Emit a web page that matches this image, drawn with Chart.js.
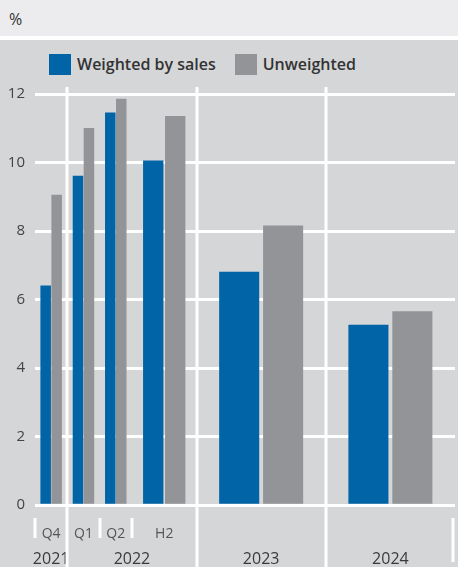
<!DOCTYPE html>
<html>
<head>
<meta charset="utf-8">
<script src="https://cdn.jsdelivr.net/npm/chart.js@4"></script>
<style>
  html, body { margin: 0; padding: 0; }
  body { width: 458px; height: 567px; overflow: hidden; background: #d5d6d8; font-family: "Open Sans", sans-serif; position: relative; }
  #unit { height: 36px; line-height: 38px; background: #ececee; color: #333; font-size: 16px; padding-left: 9px; border-bottom: 4px solid #fff; }
  #legend { display: flex; align-items: center; padding: 13px 0 0 49px; }
  .item { display: flex; align-items: center; font-size: 16px; font-weight: 600; color: #333; margin-right: 19px; }
  .sw { width: 22px; height: 21px; margin-right: 6px; }
  #wrap { position: absolute; left: 0; top: 80px; width: 458px; height: 487px; }
</style>
</head>
<body>
<div id="unit">%</div>
<div id="legend"></div>
<div id="wrap"><canvas id="myChart"></canvas></div>
<script>
// periods measured in quarters, starting at Q4 2021
let periodLabels = ["Q4", "Q1", "Q2", "H2", "", ""];
let periodStart = [0, 1, 2, 3, 5, 9];
let periodLength = [1, 1, 1, 2, 4, 4];

let yearLabels = ["2021", "2022", "2023", "2024"];
let yearStart = [0, 1, 5, 9];
let yearLength = [1, 4, 4, 4];

let weighted = [6.4, 9.6, 11.45, 10.05, 6.8, 5.25];
let unweighted = [9.05, 11.0, 11.85, 11.35, 8.15, 5.65];

let seriesNames = ["Weighted by sales", "Unweighted"];
let seriesColors = ["#0064a7", "#939497"];

let barShare = 0.305; // bar width as part of the period
let gapShare = 0.035;

// html legend
let legend = document.getElementById("legend");
seriesNames.forEach((name, i) => {
  let item = document.createElement("div");
  item.className = "item";
  item.innerHTML = '<span class="sw" style="background:' + seriesColors[i] + '"></span>' + name;
  legend.appendChild(item);
});

// one dataset per bar so every period can have its own bar width
let datasets = [];
[weighted, unweighted].forEach((values, s) => {
  values.forEach((v, i) => {
    let len = periodLength[i];
    let shift = (barShare + gapShare) * len / 2;
    let center = periodStart[i] + len / 2 + (s == 0 ? -shift : shift);
    datasets.push({
      label: seriesNames[s],
      data: [{ x: center, y: v }],
      backgroundColor: seriesColors[s],
      borderWidth: 0,
      grouped: false,
      len: len,
      barThickness: (ctx) => {
        let xs = ctx.chart.scales.x;
        return (xs.getPixelForValue(ctx.dataset.len) - xs.getPixelForValue(0)) * barShare;
      },
      xAxisID: "x",
      yAxisID: "y",
    });
  });
});

// white separators between the periods and years
let separators = {
  id: "separators",
  beforeDatasetsDraw(chart) {
    let c = chart.ctx;
    let xs = chart.scales.x;
    let area = chart.chartArea;
    let bottom = chart.height;
    c.save();
    c.strokeStyle = "#fff";
    c.lineWidth = 3;
    c.beginPath();
    yearStart.slice(1).forEach((v) => {
      let px = Math.round(xs.getPixelForValue(v));
      c.moveTo(px, area.top - 7);
      c.lineTo(px, bottom);
    });
    [0, 2, 3].forEach((v) => {
      let px = Math.round(xs.getPixelForValue(v));
      c.moveTo(px, area.bottom + 13);
      c.lineTo(px, area.bottom + 33);
    });
    let end = Math.round(xs.getPixelForValue(13)) - 2;
    c.moveTo(end, area.bottom + 13);
    c.lineTo(end, bottom - 5);
    c.stroke();
    c.restore();
  },
};

Chart.defaults.font.family = "'Open Sans', sans-serif";

let myChart = document.getElementById("myChart").getContext("2d");

var chart = new Chart(myChart, {
  type: "bar",
  data: { datasets: datasets },
  plugins: [separators],
  options: {
    responsive: true,
    maintainAspectRatio: false,
    animation: false,
    layout: { padding: { top: 14, right: 3, left: 0, bottom: 0 } },
    plugins: {
      legend: { display: false },
      tooltip: { enabled: false },
    },
    scales: {
      x: {
        type: "linear",
        position: "bottom",
        weight: 0,
        min: 0,
        max: 13,
        offset: false,
        grid: { display: false, drawTicks: false },
        border: { display: false },
        afterBuildTicks: (axis) => {
          axis.ticks = periodStart.map((s, i) => ({ value: s + periodLength[i] / 2 }));
        },
        ticks: {
          autoSkip: false,
          maxRotation: 0,
          padding: 21,
          color: "#555",
          font: { size: 14 },
          callback: (v, i) => periodLabels[i],
        },
        afterFit: (axis) => {
          axis.height = 38;
        },
      },
      years: {
        type: "linear",
        axis: "x",
        position: "bottom",
        weight: 1,
        min: 0,
        max: 13,
        offset: false,
        grid: { display: false, drawTicks: false },
        border: { display: false },
        afterBuildTicks: (axis) => {
          axis.ticks = yearStart.map((s, i) => ({ value: s + yearLength[i] / 2 }));
        },
        ticks: {
          autoSkip: false,
          maxRotation: 0,
          padding: 7,
          color: "#3a3a3a",
          font: { size: 16 },
          callback: (v, i) => yearLabels[i],
        },
        afterFit: (axis) => {
          axis.height = 24;
        },
      },
      y: {
        min: 0,
        max: 12,
        stacked: false,
        grid: { color: "#fff", lineWidth: 3, drawTicks: false },
        border: { display: false },
        ticks: {
          stepSize: 2,
          padding: 10,
          color: "#444",
          font: { size: 15 },
        },
        afterFit: (axis) => {
          axis.width = 35;
          axis.paddingTop = 0;
          axis.paddingBottom = 0;
        },
      },
    },
  },
});
</script>
</body>
</html>
